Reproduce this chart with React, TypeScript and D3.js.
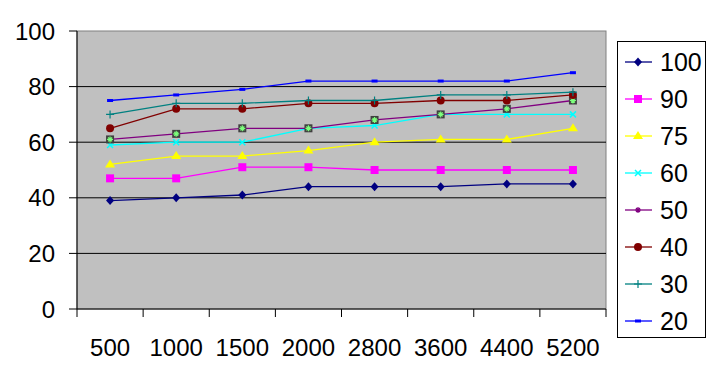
import React from 'react';
import * as d3 from 'd3';

// x categories and y ticks
const categories = ['500', '1000', '1500', '2000', '2800', '3600', '4400', '5200'];
const yTicks = [0, 20, 40, 60, 80, 100];

// one array per series
const s100 = [39, 40, 41, 44, 44, 44, 45, 45];
const s90 = [47, 47, 51, 51, 50, 50, 50, 50];
const s75 = [52, 55, 55, 57, 60, 61, 61, 65];
const s60 = [59, 60, 60, 65, 66, 70, 70, 70];
const s50 = [61, 63, 65, 65, 68, 70, 72, 75];
const s40 = [65, 72, 72, 74, 74, 75, 75, 77];
const s30 = [70, 74, 74, 75, 75, 77, 77, 78];
const s20 = [75, 77, 79, 82, 82, 82, 82, 85];

const seriesNames = ['100', '90', '75', '60', '50', '40', '30', '20'];
const seriesValues = [s100, s90, s75, s60, s50, s40, s30, s20];
const seriesColors = ['#000080', '#FF00FF', '#FFFF00', '#00FFFF', '#800080', '#800000', '#008080', '#0000FF'];
const seriesMarkers = ['diamond', 'square', 'triangle', 'x', 'star', 'circle', 'plus', 'dash'];

const FONT = 'Arial, "Liberation Sans", sans-serif';

function Marker({kind, color, x, y}: {kind: string; color: string; x: number; y: number}) {
    switch (kind) {
        case 'diamond':
            return <path d={`M${x},${y - 4.5}L${x + 4},${y}L${x},${y + 4.5}L${x - 4},${y}Z`} fill={color} />;
        case 'circle':
            return <circle cx={x} cy={y} r={4} fill={color} />;
        case 'square':
            return <rect x={x - 4} y={y - 4} width={8} height={8} fill={color} />;
        case 'triangle':
            return <path d={`M${x},${y - 5}L${x + 5},${y + 3}L${x - 5},${y + 3}Z`} fill={color} />;
        case 'x':
            return <path d={`M${x - 3},${y - 3}L${x + 3},${y + 3}M${x + 3},${y - 3}L${x - 3},${y + 3}`} stroke={color} strokeWidth={1.5} />;
        case 'plus':
            return <path d={`M${x - 4},${y}L${x + 4},${y}M${x},${y - 4}L${x},${y + 4}`} stroke={color} strokeWidth={1.2} />;
        case 'dash':
            return <rect x={x - 3} y={y - 1.5} width={6} height={3} fill={color} />;
        case 'star':
            return (
                <g>
                    <rect x={x - 4} y={y - 4} width={8} height={8} fill="#404040" />
                    <path d={`M${x - 3},${y}L${x + 3},${y}M${x},${y - 3}L${x},${y + 3}M${x - 2},${y - 2}L${x + 2},${y + 2}M${x + 2},${y - 2}L${x - 2},${y + 2}`} stroke="#7CFF7C" strokeWidth={1.2} />
                </g>
            );
        case 'starLegend':
            return (
                <path d={`M${x - 3},${y}L${x + 3},${y}M${x},${y - 3}L${x},${y + 3}M${x - 2},${y - 2}L${x + 2},${y + 2}M${x + 2},${y - 2}L${x - 2},${y + 2}`} stroke={color} strokeWidth={1.2} />
            );
        default:
            return null;
    }
}

export default function App() {
    const width = 709, height = 375;
    const left = 77, right = 606, top = 31, bottom = 309;

    const x = d3.scaleBand().domain(categories).range([left, right]);
    const y = d3.scaleLinear().domain([0, 100]).range([bottom, top]);
    const line = d3.line<number>()
        .x((_, i) => x(categories[i])! + x.bandwidth() / 2)
        .y(d => y(d));

    const legendY = d3.scalePoint().domain(seriesNames).range([62, 321]);
    const tickXs = categories.map(c => x(c)!).concat([right]);

    return (
        <svg width={width} height={height} style={{position: 'absolute', left: 0, top: 0, background: '#fff'}}>
            <rect x={left} y={top} width={right - left} height={bottom - top} fill="#C0C0C0" stroke="#808080" />
            {yTicks.filter(t => t > 0 && t < 100).map(t => (
                <line key={t} x1={left} x2={right} y1={y(t)} y2={y(t)} stroke="#000" />
            ))}
            {/* axes */}
            <line x1={left} x2={left} y1={top} y2={bottom} stroke="#000" />
            <line x1={left} x2={right} y1={bottom} y2={bottom} stroke="#000" />
            {yTicks.map(t => (
                <g key={t}>
                    <line x1={left - 8} x2={left} y1={y(t)} y2={y(t)} stroke="#000" />
                    <text x={55} y={y(t)} dy="0.36em" textAnchor="end" fontFamily={FONT} fontSize={24}>{t}</text>
                </g>
            ))}
            {tickXs.map((tx, i) => (
                <line key={i} x1={tx} x2={tx} y1={bottom} y2={bottom + 8} stroke="#000" />
            ))}
            {categories.map(c => (
                <text key={c} x={x(c)! + x.bandwidth() / 2} y={356} textAnchor="middle" fontFamily={FONT} fontSize={24}>{c}</text>
            ))}

            {seriesValues.map((vals, si) => (
                <g key={seriesNames[si]}>
                    <path d={line(vals)!} fill="none" stroke={seriesColors[si]} strokeWidth={1.3} />
                    {vals.map((v, i) => (
                        <Marker key={i} kind={seriesMarkers[si]} color={seriesColors[si]}
                            x={x(categories[i])! + x.bandwidth() / 2} y={y(v)} />
                    ))}
                </g>
            ))}

            {/* legend */}
            <rect x={617.5} y={41.5} width={88} height={296} fill="#fff" stroke="#000" />
            {seriesNames.map((name, si) => {
                const ly = legendY(name)!;
                return (
                    <g key={name}>
                        <line x1={625} x2={652} y1={ly} y2={ly} stroke={seriesColors[si]} strokeWidth={1.3} />
                        <Marker kind={seriesMarkers[si] === 'star' ? 'starLegend' : seriesMarkers[si]} color={seriesColors[si]} x={638} y={ly} />
                        <text x={660} y={ly} dy="0.36em" fontFamily={FONT} fontSize={25}>{name}</text>
                    </g>
                );
            })}
        </svg>
    );
}
